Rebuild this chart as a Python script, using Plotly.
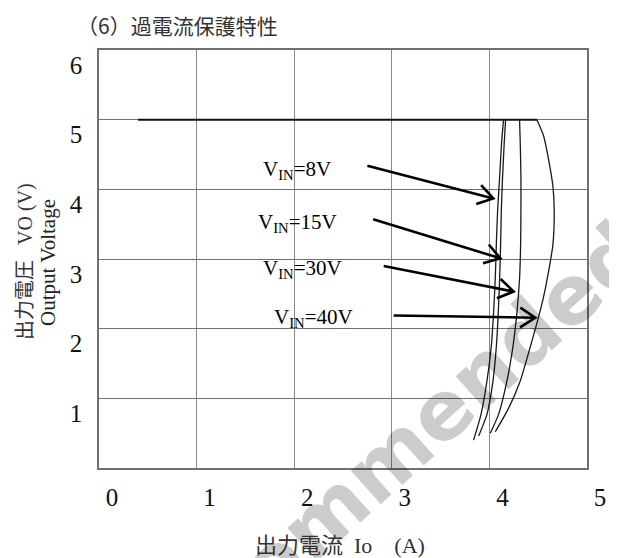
import math
import plotly.graph_objects as go

# ---------------- data ----------------
x_ticks = [0, 1, 2, 3, 4, 5]
y_ticks = [1, 2, 3, 4, 5, 6]

# flat 5 V output region shared by all curves
io_flat = [0.40, 4.487]
vo_flat = [5.00, 5.00]

io_8v = [4.145, 4.125, 4.105, 4.084, 4.071, 4.060, 4.043, 4.019, 3.975, 3.914, 3.838]
vo_8v = [5.00, 4.67, 4.18, 3.69, 3.21, 2.72, 2.23, 1.74, 1.25, 0.77, 0.40]

io_15v = [4.166, 4.152, 4.135, 4.122, 4.115, 4.105, 4.091, 4.071, 4.037, 3.975, 3.890]
vo_15v = [5.00, 4.67, 4.18, 3.69, 3.21, 2.72, 2.23, 1.74, 1.25, 0.77, 0.46]

io_30v = [4.309, 4.316, 4.323, 4.323, 4.320, 4.309, 4.282, 4.241, 4.180, 4.094, 4.009]
vo_30v = [5.00, 4.67, 4.18, 3.69, 3.21, 2.72, 2.23, 1.74, 1.25, 0.77, 0.50]

io_40v = [4.487, 4.555, 4.606, 4.651, 4.664, 4.651, 4.606, 4.549, 4.487, 4.419, 4.316, 4.197, 4.060]
vo_40v = [5.00, 4.77, 4.43, 4.04, 3.69, 3.21, 2.82, 2.42, 2.08, 1.74, 1.25, 0.86, 0.52]

label_texts = ["V<sub>IN</sub>=8V", "V<sub>IN</sub>=15V", "V<sub>IN</sub>=30V", "V<sub>IN</sub>=40V"]
label_x = [2.03, 2.03, 2.09, 2.20]
label_y = [4.28, 3.52, 2.85, 2.16]
arrow_tail_x = [2.750, 2.809, 2.917, 3.019]
arrow_tail_y = [4.338, 3.572, 2.899, 2.190]
arrow_head_x = [4.040, 4.112, 4.248, 4.470]
arrow_head_y = [3.870, 3.010, 2.533, 2.157]

# ---------------- layout geometry ----------------
OFF = 8  # page body margin of the html page
W, H = 617 - OFF, 558 - OFF
L, R, T, B = 99 - OFF, 30, 50 - OFF, 90
PW, PH = W - L - R, H - T - B
XR = [0, 5]
YR = [0, 6]

def d2p(x, y):
    return (L + (x - XR[0]) / (XR[1] - XR[0]) * PW,
            T + PH - (y - YR[0]) / (YR[1] - YR[0]) * PH)

def p2d(px, py):
    return (XR[0] + (px - L) / PW * (XR[1] - XR[0]),
            YR[0] + (T + PH - py) / PH * (YR[1] - YR[0]))

def ppx(px):  # reference-picture pixel -> paper
    return (px - OFF - L) / PW

def ppy(py):
    return (T + PH - (py - OFF)) / PH

serif = "Liberation Serif"
mixed = "Liberation Serif, Noto Sans CJK JP, serif"
cjk = "Noto Sans CJK JP, Liberation Serif, sans-serif"

fig = go.Figure()

fig.add_trace(go.Scatter(x=io_flat, y=vo_flat, mode="lines",
                         line=dict(color="#111111", width=2.0),
                         hoverinfo="skip", showlegend=False))
for xs, ys in [(io_8v, vo_8v), (io_15v, vo_15v), (io_30v, vo_30v), (io_40v, vo_40v)]:
    fig.add_trace(go.Scatter(x=xs, y=ys, mode="lines",
                             line=dict(color="#1a1a1a", width=1.3, shape="spline", smoothing=0.6),
                             hoverinfo="skip", showlegend=False))

shapes = []
annotations = []

# watermark: translucent black so that dark lines underneath stay dark
annotations.append(dict(x=ppx(442), y=ppy(410), xref="paper", yref="paper",
                        text="<b>ommended</b>", showarrow=False, textangle=-42,
                        font=dict(family="DejaVu Sans", size=82, color="rgba(0,0,0,0.2)"),
                        xanchor="center", yanchor="middle"))

head_len = 18
head_ang = math.radians(33)
for i in range(4):
    tx, ty = d2p(arrow_tail_x[i], arrow_tail_y[i])
    hx, hy = d2p(arrow_head_x[i], arrow_head_y[i])
    ang = math.atan2(ty - hy, tx - hx)
    a1 = (hx + head_len * math.cos(ang + head_ang), hy + head_len * math.sin(ang + head_ang))
    a2 = (hx + head_len * math.cos(ang - head_ang), hy + head_len * math.sin(ang - head_ang))
    pts = [p2d(tx, ty), p2d(hx, hy), p2d(*a1), p2d(*a2)]
    path = (f"M{pts[0][0]},{pts[0][1]} L{pts[1][0]},{pts[1][1]} "
            f"M{pts[2][0]},{pts[2][1]} L{pts[1][0]},{pts[1][1]} L{pts[3][0]},{pts[3][1]}")
    shapes.append(dict(type="path", xref="x", yref="y", path=path,
                       line=dict(color="black", width=2.6)))
    annotations.append(dict(x=label_x[i], y=label_y[i], xref="x", yref="y",
                            text=label_texts[i], showarrow=False,
                            font=dict(family=serif, size=21, color="black"),
                            xanchor="center", yanchor="middle"))

# titles
annotations.append(dict(x=ppx(75), y=ppy(25), xref="paper", yref="paper",
                        text="（6）過電流保護特性", showarrow=False,
                        font=dict(family=cjk, size=21, color="#333333"),
                        xanchor="left", yanchor="middle"))
annotations.append(dict(x=ppx(340), y=ppy(545), xref="paper", yref="paper",
                        text="出力電流&nbsp;&nbsp;Io&nbsp;&nbsp;&nbsp;&nbsp;(A)", showarrow=False,
                        font=dict(family=mixed, size=22, color="#333333"),
                        xanchor="center", yanchor="middle"))
annotations.append(dict(x=ppx(25), y=ppy(262), xref="paper", yref="paper",
                        text="出力電圧&nbsp;&nbsp;&nbsp;VO (V)", showarrow=False, textangle=-90,
                        font=dict(family=mixed, size=20, color="#333333"),
                        xanchor="center", yanchor="middle"))
annotations.append(dict(x=ppx(48), y=ppy(263), xref="paper", yref="paper",
                        text="Output Voltage", showarrow=False, textangle=-90,
                        font=dict(family=serif, size=21, color="#222222"),
                        xanchor="center", yanchor="middle"))

fig.update_layout(
    width=W, height=H,
    margin=dict(l=L, r=R, t=T, b=B, autoexpand=False),
    paper_bgcolor="white", plot_bgcolor="white",
    showlegend=False,
    shapes=shapes, annotations=annotations,
    xaxis=dict(range=XR, tickvals=x_ticks, ticktext=[str(v) for v in x_ticks],
               showgrid=True, gridcolor="#8a8a8a", gridwidth=1,
               showline=True, linecolor="#707070", linewidth=1.5, mirror=True,
               zeroline=False, ticks="", automargin=False,
               tickfont=dict(family=serif, size=25, color="#111111"),
               ticklabelshift=13, ticklabelstandoff=6),
    yaxis=dict(range=YR, tickvals=y_ticks, ticktext=[str(v) for v in y_ticks],
               showgrid=True, gridcolor="#707070", gridwidth=1,
               showline=True, linecolor="#707070", linewidth=1.5, mirror=True,
               zeroline=False, ticks="", automargin=False,
               tickfont=dict(family=serif, size=25, color="#111111"),
               ticklabelshift=15, ticklabelstandoff=10),
)

fig.write_html("out.html")
